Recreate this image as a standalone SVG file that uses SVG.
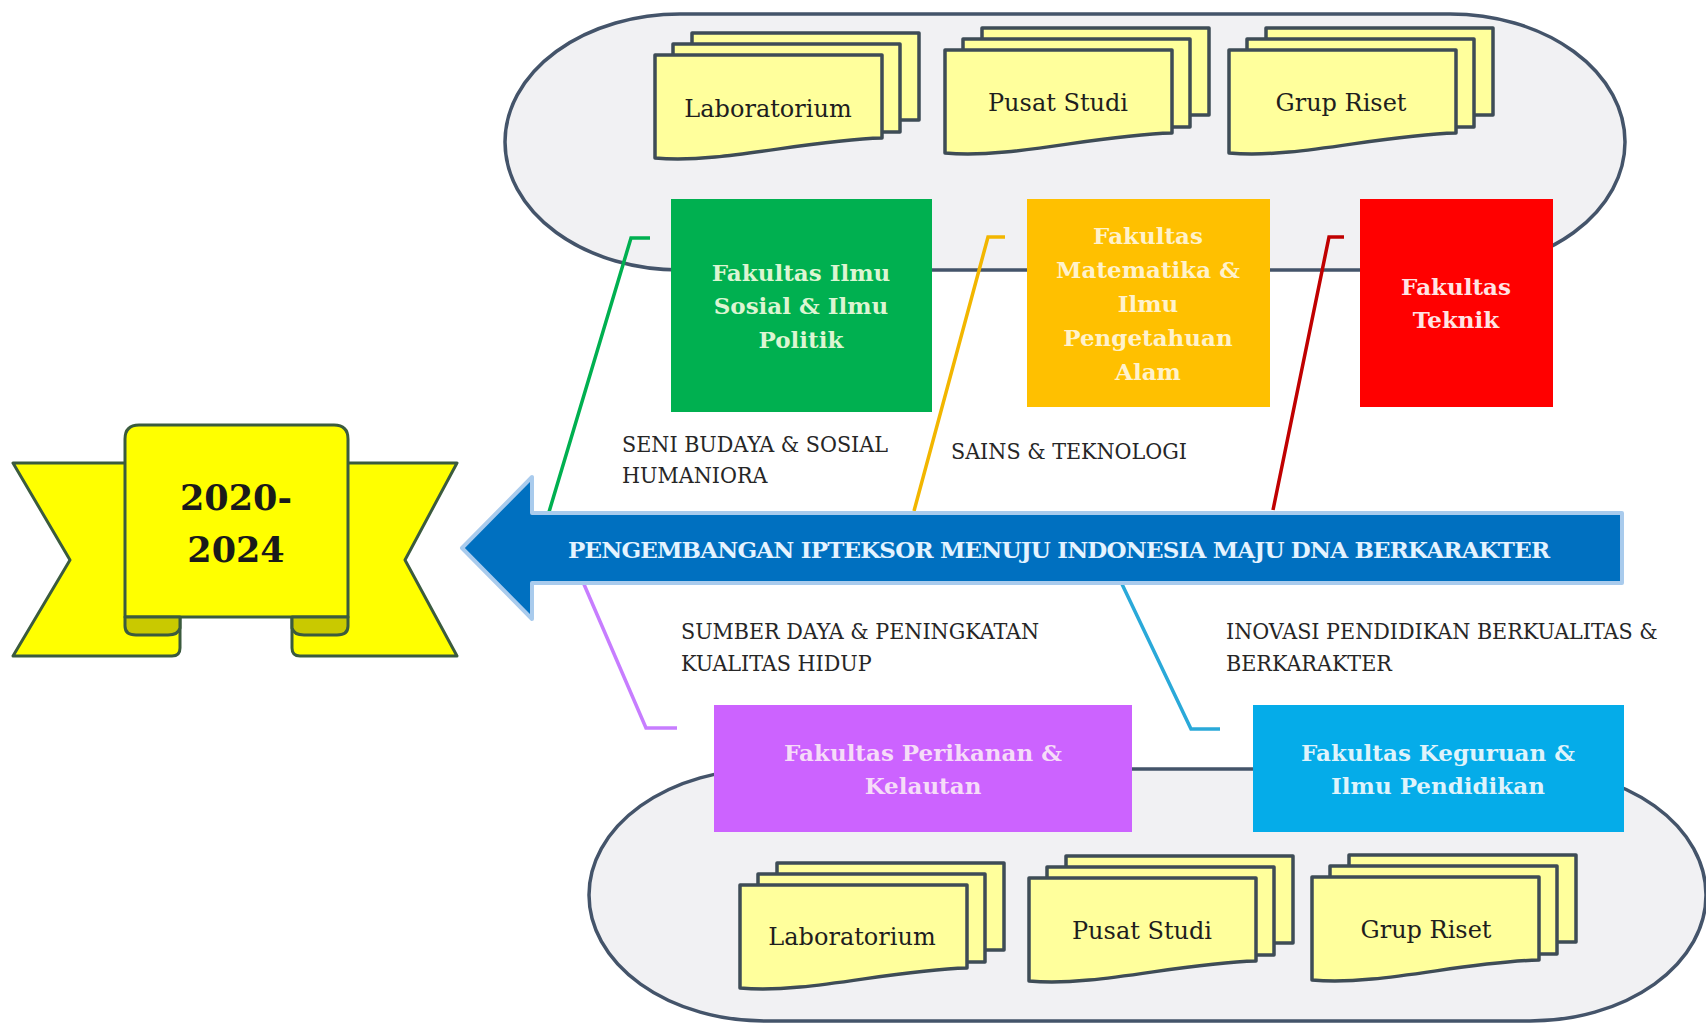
<svg xmlns="http://www.w3.org/2000/svg" xmlns:xlink="http://www.w3.org/1999/xlink" width="1706" height="1026" viewBox="0 0 1706 1026">
<style>
  .pill { fill: #f1f1f3; stroke: #44546a; stroke-width: 3.5; }
  .sheet { fill: #ffff9c; stroke: #3e4c56; stroke-width: 3.5; stroke-linejoin: round; }
  .doctext { font-family: "DejaVu Serif", serif; font-size: 24px; fill: #1e1e1e; text-anchor: middle; }
  .ftext { font-family: "DejaVu Serif", serif; font-weight: bold; font-size: 23px; text-anchor: middle; }
  .label { font-family: "DejaVu Serif", serif; font-stretch: condensed; font-size: 23px; fill: #262626; }
  .conn { fill: none; stroke-width: 3.5; stroke-linejoin: miter; }
  .rib { fill: #ffff00; stroke: #3b5b3e; stroke-width: 3; stroke-linejoin: round; }
  .curl { fill: #c9c900; stroke: #3b5b3e; stroke-width: 3; stroke-linejoin: round; }
</style>
<defs>
  <g id="docstack">
    <rect class="sheet" x="37" y="-22" width="227" height="87"/>
    <rect class="sheet" x="18" y="-11" width="227" height="88"/>
    <path class="sheet" d="M0,0 H227 V83 C148,85 68,109 0,103 Z"/>
  </g>
</defs>
<rect x="0" y="0" width="1706" height="1026" fill="#ffffff"/>

<!-- background pills -->
<g id="top-cluster">
  <path class="pill" d="M680,14 H1450 A175,128 0 0 1 1450,270 H680 A175,128 0 0 1 680,14 Z"/>
</g>
<g id="bottom-cluster">
  <path class="pill" d="M765,769 H1530 A176,126 0 0 1 1530,1021 H765 A176,126 0 0 1 765,769 Z"/>
</g>

<!-- document stacks top -->
<g id="lab-top">
  <use xlink:href="#docstack" x="655" y="55"/>
  <text class="doctext" x="768" y="117">Laboratorium</text>
</g>
<g id="pusat-top">
  <use xlink:href="#docstack" x="945" y="50"/>
  <text class="doctext" x="1058" y="111">Pusat Studi</text>
</g>
<g id="grup-top">
  <use xlink:href="#docstack" x="1229" y="50"/>
  <text class="doctext" x="1341" y="111">Grup Riset</text>
</g>

<!-- document stacks bottom -->
<g id="lab-bottom">
  <use xlink:href="#docstack" x="740" y="885"/>
  <text class="doctext" x="852" y="945">Laboratorium</text>
</g>
<g id="pusat-bottom">
  <use xlink:href="#docstack" x="1029" y="878"/>
  <text class="doctext" x="1142" y="939">Pusat Studi</text>
</g>
<g id="grup-bottom">
  <use xlink:href="#docstack" x="1312" y="877"/>
  <text class="doctext" x="1426" y="938">Grup Riset</text>
</g>

<!-- faculty boxes -->
<g id="fisip">
  <rect x="671" y="199" width="261" height="213" fill="#00b050"/>
  <text class="ftext" fill="#dcf5d2"><tspan x="801" y="281">Fakultas Ilmu</tspan><tspan x="801" y="314">Sosial &amp; Ilmu</tspan><tspan x="801" y="348">Politik</tspan></text>
</g>
<g id="fmipa">
  <rect x="1027" y="199" width="243" height="208" fill="#ffc000"/>
  <text class="ftext" fill="#fff2cc"><tspan x="1148" y="244">Fakultas</tspan><tspan x="1148" y="278">Matematika &amp;</tspan><tspan x="1148" y="312">Ilmu</tspan><tspan x="1148" y="346">Pengetahuan</tspan><tspan x="1148" y="380">Alam</tspan></text>
</g>
<g id="ft">
  <rect x="1360" y="199" width="193" height="208" fill="#ff0000"/>
  <text class="ftext" fill="#ffe4e4"><tspan x="1456" y="295">Fakultas</tspan><tspan x="1456" y="328">Teknik</tspan></text>
</g>
<g id="fpk">
  <rect x="714" y="705" width="418" height="127" fill="#cc63ff"/>
  <text class="ftext" fill="#f6dcf8"><tspan x="923" y="761">Fakultas Perikanan &amp;</tspan><tspan x="923" y="794">Kelautan</tspan></text>
</g>
<g id="fkip">
  <rect x="1253" y="705" width="371" height="127" fill="#05ace9"/>
  <text class="ftext" fill="#dff3fb"><tspan x="1438" y="761">Fakultas Keguruan &amp;</tspan><tspan x="1438" y="794">Ilmu Pendidikan</tspan></text>
</g>

<!-- connectors -->
<g id="connectors">
  <polyline class="conn" stroke="#00b050" points="549,512 631,238 650,238"/>
  <polyline class="conn" stroke="#f2b600" stroke-width="3" points="914,511 988,237 1005,237"/>
  <polyline class="conn" stroke="#c00000" points="1273,510 1329,237 1344,237"/>
  <polyline class="conn" stroke="#c77dff" points="583,582 646,728 677,728"/>
  <polyline class="conn" stroke="#2aa9d9" points="1121,582 1191,729 1220,729"/>
</g>

<!-- main arrow -->
<g id="main-arrow">
  <path d="M462,548 L532,477 L532,513 H1622 V583 H532 V619 Z" fill="#0070c0" stroke="#a9cbed" stroke-width="4" stroke-linejoin="round"/>
  <text x="568" y="558" textLength="982" lengthAdjust="spacing" style="font-family:'DejaVu Serif',serif;font-weight:bold;font-size:23px;fill:#e4f3ff">PENGEMBANGAN IPTEKSOR MENUJU INDONESIA MAJU DNA BERKARAKTER</text>
</g>

<!-- branch labels -->
<g id="labels">
  <text class="label"><tspan x="622" y="452">SENI BUDAYA &amp; SOSIAL</tspan><tspan x="622" y="483">HUMANIORA</tspan></text>
  <text class="label" x="951" y="459">SAINS &amp; TEKNOLOGI</text>
  <text class="label"><tspan x="681" y="639">SUMBER DAYA &amp; PENINGKATAN</tspan><tspan x="681" y="671">KUALITAS HIDUP</tspan></text>
  <text class="label"><tspan x="1226" y="639">INOVASI PENDIDIKAN BERKUALITAS &amp;</tspan><tspan x="1226" y="671">BERKARAKTER</tspan></text>
</g>

<!-- year banner -->
<g id="banner">
  <path class="rib" d="M13,463 H180 V648 Q180,656 172,656 H13 L70,560 Z"/>
  <path class="rib" d="M457,463 H292 V648 Q292,656 300,656 H457 L405,560 Z"/>
  <path class="rib" d="M125,617 V439 Q125,425 139,425 H334 Q348,425 348,439 V617 Z"/>
  <path class="curl" d="M125,617 H180 V628 Q178,635 168,635 H136 Q125,635 125,626 Z"/>
  <path class="curl" d="M348,617 H292 V628 Q294,635 304,635 H337 Q348,635 348,626 Z"/>
  <text style="font-family:'DejaVu Serif',serif;font-weight:bold;font-size:35px;fill:#1a1a1a;text-anchor:middle"><tspan x="236" y="510">2020-</tspan><tspan x="236" y="562">2024</tspan></text>
</g>
</svg>
